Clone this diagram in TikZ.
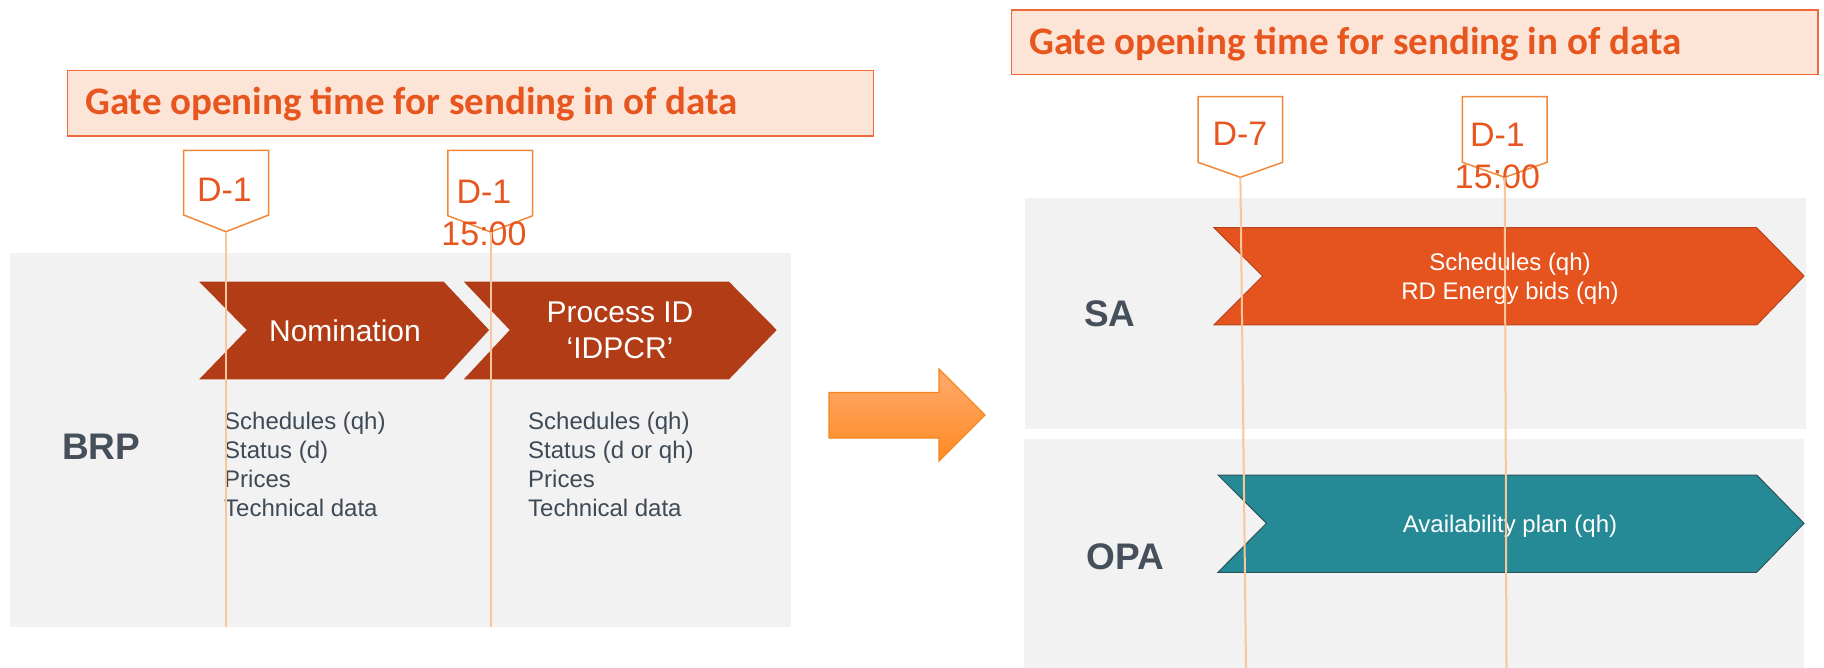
\documentclass[tikz,border=0pt]{standalone}
\usepackage{fontspec}
\setmainfont{Liberation Sans}
\newfontfamily\calib{Carlito}
\definecolor{titlefill}{HTML}{FCE4D6}
\definecolor{titleline}{HTML}{EE6A3A}
\definecolor{titletext}{HTML}{E8561F}
\definecolor{tagline}{HTML}{F0883A}
\definecolor{tagtext}{HTML}{E8561F}
\definecolor{vlinecol}{HTML}{F8C69A}
\definecolor{panelcol}{HTML}{F2F2F2}
\definecolor{nomfill}{HTML}{B13C15}
\definecolor{safill}{HTML}{E5541F}
\definecolor{saline}{HTML}{B8441A}
\definecolor{opafill}{HTML}{268A96}
\definecolor{opaline}{HTML}{2E5457}
\definecolor{darktext}{HTML}{45505A}
\definecolor{listtext}{HTML}{3E4A56}
\definecolor{arrtop}{HTML}{FFAA6E}
\definecolor{arrbot}{HTML}{FF8A22}
\definecolor{arrline}{HTML}{F5861F}
\begin{document}
\begin{tikzpicture}[x=1pt,y=-1pt,
  panelbox/.style={fill=panelcol},
  titlebox/.style={fill=titlefill,draw=titleline,line width=1.5pt},
  titletxt/.style={anchor=base west,inner sep=0,text=titletext,font=\calib\bfseries\fontsize{39}{47}\selectfont},
  tagbox/.style={fill=white,draw=tagline,line width=1.5pt},
  tagtxt/.style={inner sep=0,text=tagtext,font=\fontsize{34}{42}\selectfont,align=center},
  vln/.style={draw=vlinecol,line width=2pt},
  chevtxt/.style={text=white,inner sep=0,align=center},
  bigchev/.style={font=\fontsize{30}{36.6}\selectfont},
  smallchev/.style={font=\fontsize{24}{28.6}\selectfont},
  listtxt/.style={anchor=north west,inner sep=0,align=left,text=listtext,font=\fontsize{24}{29}\selectfont},
  rolelbl/.style={anchor=base west,inner sep=0,text=darktext,font=\bfseries\fontsize{37}{44}\selectfont},
  bigarrow/.style={top color=arrtop,bottom color=arrbot,draw=arrline,line width=1.2pt}
]
\useasboundingbox (0,0) rectangle (1824,668);
% panels
\fill[panelbox] (9.8,252.7) rectangle (791,626.7);
\fill[panelbox] (1024.7,198.3) rectangle (1805.6,429);
\fill[panelbox] (1024,439.3) rectangle (1804,668);
% title boxes
\draw[titlebox] (67.7,70.7) rectangle (873.7,136);
\node[titletxt] (title1) at (85,115) {Gate opening time for sending in of data};
\draw[titlebox] (1011.6,10) rectangle (1818,74.3);
\node[titletxt] (title2) at (1029,54.3) {Gate opening time for sending in of data};
% tags
\draw[tagbox] (183.7,150.3) -- (268.7,150.3) -- (268.7,215) -- (226,231.7) coordinate (p1) -- (183.7,215) -- cycle;
\draw[tagbox] (447.8,150.3) -- (532.7,150.3) -- (532.7,215.7) -- (490.5,232) coordinate (p2) -- (447.8,215.7) -- cycle;
\draw[tagbox] (1198,96.7) -- (1282.7,96.7) -- (1282.7,162.3) -- (1240.4,177.3) coordinate (p3) -- (1198,162.3) -- cycle;
\draw[tagbox] (1462.4,96.7) -- (1547,96.7) -- (1547,162.3) -- (1504.7,177.3) coordinate (p4) -- (1462.4,162.3) -- cycle;
\node[tagtxt,anchor=base] (tag1) at (224.5,201.7) {D-1};
\node[tagtxt,anchor=north] (tag2) at (484,179.7) {D-1\\15:00};
\node[tagtxt,anchor=base] (tag3) at (1240,145.7) {D-7};
\node[tagtxt,anchor=north] (tag4) at (1497.5,123) {D-1\\15:00};
% chevrons
\fill[nomfill] (199.2,281.7) -- (443.7,281.7) -- (489.1,330) -- (443.7,379.3) -- (199.2,379.3) -- (246.8,330) -- cycle;
\fill[nomfill] (463.8,281.7) -- (729,281.7) -- (776.7,330) -- (729,379.3) -- (463.8,379.3) -- (509.8,330) -- cycle;
\filldraw[fill=safill,draw=saline,line width=1pt] (1213.9,227.7) -- (1756.7,227.7) -- (1804,276) -- (1756.7,325) -- (1213.9,325) -- (1262.7,276) -- cycle;
\filldraw[fill=opafill,draw=opaline,line width=1pt] (1218,475) -- (1756.7,475) -- (1804,523.3) -- (1756.7,572.3) -- (1218,572.3) -- (1266.4,523.3) -- cycle;
\node[chevtxt,bigchev,anchor=base] (nom) at (345,341.7) {Nomination};
\node[chevtxt,bigchev,anchor=north] (proc) at (620,301.2) {Process ID\\‘IDPCR’};
\node[chevtxt,smallchev,anchor=north] (satxt) at (1510,253.2) {Schedules (qh)\\RD Energy bids (qh)};
\node[chevtxt,smallchev,anchor=base] (opatxt) at (1510,532.7) {Availability plan (qh)};
% lists
\node[listtxt] (list1) at (224,411.5) {Schedules (qh)\\Status (d)\\Prices\\Technical data};
\node[listtxt] (list2) at (528,411.5) {Schedules (qh)\\Status (d or qh)\\Prices\\Technical data};
% role labels
\node[rolelbl] (brp) at (62,459) {BRP};
\node[rolelbl] (sa) at (1084,326.7) {SA};
\node[rolelbl] (opa) at (1086.7,569.3) {OPA};
% middle arrow
\path[bigarrow] (829,392.5) -- (939,392.5) -- (939,369) -- (985,415) -- (939,461) -- (939,438) -- (829,438) -- cycle;
% vertical time lines
\coordinate (b1) at (226,626.7);
\coordinate (b2) at (490.5,626.7);
\coordinate (b3) at (1246,668);
\coordinate (b4) at (1506.5,668);
\draw[vln] (p1) -- (b1);
\draw[vln] (p2) -- (b2);
\draw[vln] (p3) -- (b3);
\draw[vln] (p4) -- (b4);
\end{tikzpicture}
\end{document}
